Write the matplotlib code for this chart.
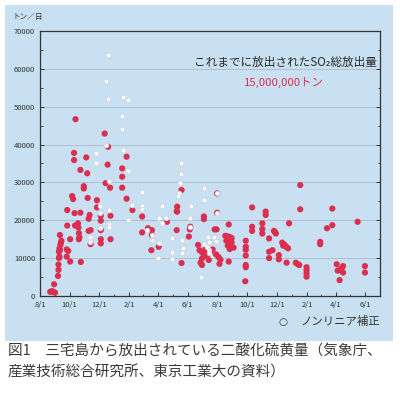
import matplotlib
matplotlib.use("Agg")
import matplotlib.pyplot as plt
import matplotlib.dates as mdates
from matplotlib.patches import Rectangle
from matplotlib.ticker import MultipleLocator, FuncFormatter
import numpy as np
import pandas as pd

# dias desde 2000-08-01 y toneladas/dia (lectura del grafico)
red_day = [21, 25, 28, 31, 29,
           37, 38, 38, 39, 40, 39, 41, 42, 43, 41, 44, 40,
           55, 58, 55, 62, 62, 56, 56, 66, 68, 70, 70, 71, 72, 73,
           78, 79, 80, 81, 80, 83, 84, 90, 90, 83, 95, 97, 98, 102, 100, 100,
           104, 104, 117, 117, 125, 125, 125, 125, 125,
           133, 140, 139, 135, 144, 145, 145,
           169, 169, 169, 178, 178, 190, 210, 210, 222, 230, 230, 229, 244,
           261, 282, 282, 291, 281, 281, 291, 306, 308, 309,
           337, 337, 333, 325, 328, 333, 338, 333, 330, 340, 345, 350, 355, 347, 359,
           364, 364, 363, 388, 381, 385, 390, 394, 383, 388, 394, 386, 392, 398, 390,
           343, 362, 367, 371, 369, 388,
           423, 423, 423, 423, 423, 423, 422,
           436, 436, 436, 457, 457, 457, 464, 464, 471, 481, 485, 483,
           471, 478, 471, 491, 491, 498, 503, 507, 510, 500, 512, 507,
           526, 530, 533, 535, 535, 548, 548, 548, 548,
           576, 576, 590, 601, 601,
           610, 612, 616, 620, 623, 623, 618, 653, 668, 668]
red_val = [1100, 1300, 1000, 900, 3100,
           5300, 6900, 8300, 10000, 10400, 11700, 12100, 13500, 14100, 16100, 14600, 12600,
           12300, 11900, 10400, 9100, 15000, 22700, 18600, 26400, 25600, 37800, 35900, 21900, 18600, 46700,
           19200, 18100, 16600, 15500, 15000, 22000, 9000, 29000, 28400, 33300, 36600, 32400, 25900, 21400, 20400, 17200,
           17400, 13700, 25300, 23400, 21200, 19900, 17400, 15000, 13900,
           42900, 39400, 34700, 29800, 28600, 21200, 15000,
           33700, 31500, 28600, 36800, 25700, 22700, 21000, 16800, 17900, 17400, 16100, 12100, 13000,
           19600, 23600, 22300, 28000, 22400, 17400, 8700, 15700, 17600, 18300,
           21000, 20300, 8200, 13500, 12100, 11500, 10600, 9900, 8800, 12400, 11000, 11700, 12300, 9500, 17600,
           27100, 22000, 17600, 18900, 15900, 15800, 15600, 15300, 14600, 14400, 14200, 13300, 13000, 12800, 12400,
           12100, 11000, 10300, 9600, 8500, 9100,
           14600, 13000, 12200, 10700, 8200, 7600, 3900,
           23400, 18300, 17200, 19200, 17700, 16500, 22300, 21400, 15200, 17200, 16500, 16900,
           11700, 12100, 10000, 10800, 9700, 14100, 13500, 12900, 12600, 13300, 19200, 8800,
           8800, 8400, 8200, 29300, 22900, 7600, 6800, 5900, 5100,
           14300, 13700, 17900, 18700, 23100,
           8400, 6700, 4200, 7300, 7900, 6200, 6900, 19600, 7900, 6200]

white_day = [140, 135, 140, 170, 180, 169, 169, 135, 115, 115, 142, 124, 124, 142, 142, 142,
             103, 103, 124, 181, 170, 181, 210, 190, 210, 210, 230, 230, 244, 250, 259, 244,
             243, 251, 272, 272, 272, 289, 289, 288, 285, 284, 292, 293, 292, 310, 308, 309,
             337, 337, 346, 347, 330, 337, 347, 361, 357, 343, 348, 364, 364, 219]
white_val = [63700, 56700, 52100, 52500, 51800, 47500, 44000, 40000, 37800, 35200, 30300, 23800, 21800,
             22700, 19100, 18300, 15700, 14300, 18000, 20100, 38500, 33100, 27500, 24000, 23800, 22900,
             16100, 14800, 20500, 19400, 20500, 13900, 10100, 23800, 15400, 11700, 9700, 35200, 32100,
             29800, 27300, 26400, 14800, 12600, 11300, 23800, 20500, 18300, 28400, 25300, 15700, 14300,
             5100, 13700, 12100, 14600, 15500, 13000, 11400, 27100, 22000, 17400]

caption1 = "図1　三宅島から放出されている二酸化硫黄量（気象庁、"
caption2 = "産業技術総合研究所、東京工業大の資料）"
total_title = "これまでに放出されたSO₂総放出量"
total_value = "15,000,000トン"
legend_label = "ノンリニア補正"

JP = ["Noto Sans CJK JP", "DejaVu Sans"]
plt.rcParams["font.family"] = JP

BLUE = "#c8e0f1"
RED = "#dc2f4f"

base = pd.Timestamp("2000-08-01")
red_x = base + pd.to_timedelta(red_day, unit="D")
white_x = base + pd.to_timedelta(white_day, unit="D")

fig = plt.figure(figsize=(4.0, 3.95), dpi=100)
fig.patch.set_facecolor("white")
fig.patches.append(Rectangle((0.0125, 0.137), 0.97, 0.851, transform=fig.transFigure,
                             facecolor=BLUE, edgecolor="none", zorder=-5))

ax = fig.add_axes([0.1, 0.2506, 0.85, 0.671])
ax.set_facecolor(BLUE)

ax.scatter(red_x, red_val, s=20, color=RED, edgecolor="none", zorder=3)
ax.scatter(white_x, white_val, s=12, color="white", edgecolor="#c4c8d4", linewidth=0.4, zorder=4)

ax.set_xlim(pd.Timestamp("2000-08-01"), pd.Timestamp("2002-07-01"))
ax.set_ylim(0, 70000)
ax.yaxis.set_major_locator(MultipleLocator(10000))
ax.yaxis.set_minor_locator(MultipleLocator(5000))
ax.xaxis.set_major_locator(mdates.MonthLocator(bymonth=[2, 4, 6, 8, 10, 12]))
ax.xaxis.set_minor_locator(mdates.MonthLocator())
ax.xaxis.set_major_formatter(FuncFormatter(lambda v, p: "%d/1" % mdates.num2date(v).month))
ax.yaxis.set_major_formatter(FuncFormatter(lambda v, p: "%d" % v))

ax.grid(axis="y", color="#a8bccb", linewidth=0.6)
ax.set_axisbelow(True)
ax.tick_params(axis="both", which="major", direction="in", length=3, width=0.7,
               labelsize=5.5, colors="#333333", pad=3.5)
ax.tick_params(axis="both", which="minor", direction="in", length=1.8, width=0.6, colors="#333333")
ax.tick_params(axis="y", which="both", right=True)
for s in ax.spines.values():
    s.set_color("#333333")
    s.set_linewidth(0.9)

fig.text(0.032, 0.957, "トン／日", fontsize=5.5, color="#333333", va="center")
fig.text(0.7125, 0.843, total_title, fontsize=8.4, color="#2a2a2a", ha="center", va="center")
fig.text(0.71, 0.79, total_value, fontsize=8.2, color=RED, ha="center", va="center")

fig.text(0.707, 0.185, "○", fontsize=7.5, color="#333333", ha="center", va="center", family=["DejaVu Sans"])
fig.text(0.75, 0.185, legend_label, fontsize=8.2, color="#333333", va="center")

fig.text(0.02, 0.11, caption1, fontsize=10.5, color="#3a3a3a", va="center")
fig.text(0.02, 0.057, caption2, fontsize=10.5, color="#3a3a3a", va="center")

fig.savefig("out.png", dpi=100, facecolor="white")
